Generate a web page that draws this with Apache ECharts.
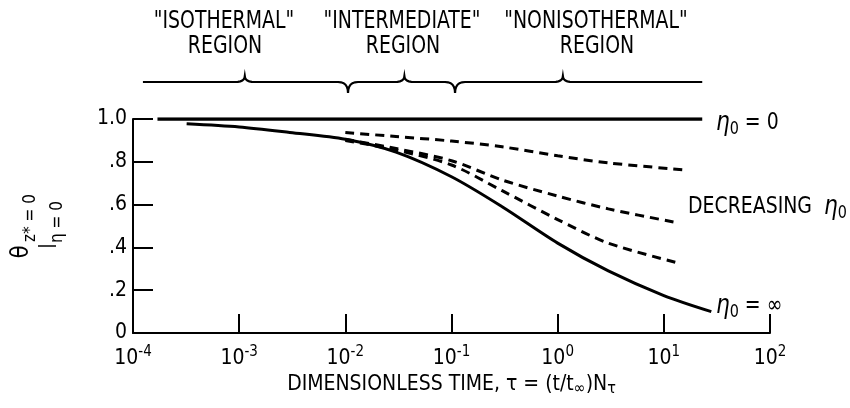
<!DOCTYPE html>
<html>
<head>
<meta charset="utf-8">
<script src="https://cdn.jsdelivr.net/npm/echarts@6/dist/echarts.min.js"></script>
<style>
html, body { margin: 0; padding: 0; background: #fff; }
#chart { width: 850px; height: 408px; }
</style>
</head>
<body>
<div id="chart"></div>
<script>
const FONT = "'Liberation Sans Narrow', 'DejaVu Sans Condensed', sans-serif";

// dimensionless time tau (x) and theta at the surface (y)
const etaZeroTau = [1.7e-4, 23];
const etaZeroTheta = [1.0, 1.0];

const etaInfTau = [3.2e-4, 1e-3, 3e-3, 1e-2, 3e-2, 0.1, 0.3, 1, 3, 10, 28];
const etaInfTheta = [0.978, 0.963, 0.937, 0.905, 0.845, 0.73, 0.59, 0.42, 0.29, 0.175, 0.10];

const dashTopTau = [0.01, 0.03, 0.1, 0.3, 1, 3, 15];
const dashTopTheta = [0.937, 0.918, 0.897, 0.87, 0.828, 0.795, 0.763];

const dashMidTau = [0.01, 0.03, 0.1, 0.3, 1, 3, 13.5];
const dashMidTheta = [0.905, 0.862, 0.805, 0.715, 0.64, 0.58, 0.515];

const dashLowTau = [0.01, 0.03, 0.1, 0.3, 1, 3, 13];
const dashLowTheta = [0.90, 0.855, 0.785, 0.665, 0.53, 0.42, 0.33];

const yTickLabels = ['0', '.2', '.4', '.6', '.8', '1.0'];

// brace above the plot: ends, region boundaries (dips) and region middles (peaks)
const braceEnds = [1.24e-4, 23];
const braceDips = [0.0106, 0.108];
const bracePeaks = [1.13e-3, 0.036, 1.12];
const regionNames = ['"ISOTHERMAL"', '"INTERMEDIATE"', '"NONISOTHERMAL"'];
const regionX = [224, 402, 596];

function pairs(xs, ys) {
    return xs.map((x, i) => [x, ys[i]]);
}

const chart = echarts.init(document.getElementById('chart'));

const option = {
    animation: false,
    backgroundColor: '#fff',
    textStyle: { fontFamily: FONT, color: '#000' },
    grid: { left: 133, right: 80, top: 119, bottom: 75 },
    xAxis: {
        type: 'log',
        logBase: 10,
        min: 1e-4,
        max: 100,
        name: '{a|DIMENSIONLESS TIME, τ = (t/t}{s|∞}{a|)N}{s|τ}',
        nameLocation: 'middle',
        nameGap: 38,
        nameTextStyle: {
            rich: {
                a: { fontFamily: FONT, fontSize: 21, lineHeight: 24, color: '#000', verticalAlign: 'middle' },
                s: { fontFamily: FONT, fontSize: 16, lineHeight: 14, color: '#000', verticalAlign: 'bottom' }
            }
        },
        axisLine: { lineStyle: { color: '#000', width: 2 } },
        axisTick: { inside: true, length: 19, lineStyle: { color: '#000', width: 2 } },
        minorTick: { show: false },
        splitLine: { show: false },
        axisLabel: {
            margin: 12,
            formatter: (v) => '{b|10}{s|' + Math.round(Math.log10(v)) + '}',
            rich: {
                b: { fontFamily: FONT, fontSize: 21, lineHeight: 27, color: '#000', verticalAlign: 'middle' },
                s: { fontFamily: FONT, fontSize: 15, lineHeight: 14, color: '#000', verticalAlign: 'top' }
            }
        }
    },
    yAxis: {
        type: 'value',
        min: 0,
        max: 1,
        interval: 0.2,
        axisLine: { show: true, lineStyle: { color: '#000', width: 2 } },
        axisTick: { show: true, inside: true, length: 20, lineStyle: { color: '#000', width: 2 } },
        splitLine: { show: false },
        axisLabel: {
            margin: 6,
            fontSize: 21,
            fontFamily: FONT,
            color: '#000',
            formatter: (v) => yTickLabels[Math.round(v * 5)]
        }
    },
    series: [
        {
            type: 'line', data: pairs(etaZeroTau, etaZeroTheta), showSymbol: false,
            lineStyle: { color: '#000', width: 3.5 }
        },
        {
            type: 'line', data: pairs(etaInfTau, etaInfTheta), showSymbol: false, smooth: 0.3,
            lineStyle: { color: '#000', width: 3 }
        },
        {
            type: 'line', data: pairs(dashTopTau, dashTopTheta), showSymbol: false, smooth: 0.3,
            lineStyle: { color: '#000', width: 3, type: [9, 6] }
        },
        {
            type: 'line', data: pairs(dashMidTau, dashMidTheta), showSymbol: false, smooth: 0.3,
            lineStyle: { color: '#000', width: 3, type: [9, 6] }
        },
        {
            type: 'line', data: pairs(dashLowTau, dashLowTheta), showSymbol: false, smooth: 0.3,
            lineStyle: { color: '#000', width: 3, type: [9, 6] }
        }
    ]
};

chart.setOption(option);

// quadratic curve sampled to points
function quad(p0, c, p1, n) {
    const pts = [];
    for (let i = 1; i <= n; i++) {
        const t = i / n;
        const a = (1 - t) * (1 - t), b = 2 * (1 - t) * t, d = t * t;
        pts.push([a * p0[0] + b * c[0] + d * p1[0], a * p0[1] + b * c[1] + d * p1[1]]);
    }
    return pts;
}

const toPx = (tau) => chart.convertToPixel({ gridIndex: 0 }, [tau, 1])[0];
const by = 82;
const features = bracePeaks.map(t => ({ x: toPx(t), h: -6 }))
    .concat(braceDips.map(t => ({ x: toPx(t), h: 11 })))
    .sort((a, b) => a.x - b.x);

let bracePts = [[toPx(braceEnds[0]), by]];
features.forEach(f => {
    const w = 10;
    bracePts.push([f.x - w, by]);
    bracePts = bracePts.concat(quad([f.x - w, by], [f.x, by], [f.x, by + f.h], 6));
    bracePts = bracePts.concat(quad([f.x, by + f.h], [f.x, by], [f.x + w, by], 6));
});
bracePts.push([toPx(braceEnds[1]), by]);

const txt = (size) => ({ fontFamily: FONT, fontSize: size, fill: '#000', align: 'center', verticalAlign: 'middle' });

const graphics = [
    {
        type: 'polyline', shape: { points: bracePts },
        style: { stroke: '#000', lineWidth: 2.2, fill: null }
    }
];

regionNames.forEach((name, i) => {
    graphics.push({
        type: 'text', x: regionX[i], y: 22, scaleY: 1.15,
        style: Object.assign({ text: name }, txt(21))
    });
    graphics.push({
        type: 'text', x: regionX[i] + 1, y: 47, scaleY: 1.15,
        style: Object.assign({ text: 'REGION' }, txt(21))
    });
});

const etaRich = {
    g: { fontFamily: FONT, fontSize: 24, fontStyle: 'italic', lineHeight: 28, verticalAlign: 'middle', fill: '#000' },
    s: { fontFamily: FONT, fontSize: 16, lineHeight: 15, verticalAlign: 'bottom', fill: '#000' },
    t: { fontFamily: FONT, fontSize: 21, lineHeight: 28, verticalAlign: 'middle', fill: '#000' }
};

graphics.push({
    type: 'text', x: 716, y: 123, scaleY: 1.1,
    style: { text: '{g|η}{s|0}{t| = 0}', rich: etaRich, align: 'left', verticalAlign: 'middle' }
});
graphics.push({
    type: 'text', x: 688, y: 207, scaleY: 1.1,
    style: { text: '{t|DECREASING  }{g|η}{s|0}', rich: etaRich, align: 'left', verticalAlign: 'middle' }
});
graphics.push({
    type: 'text', x: 716, y: 306, scaleY: 1.1,
    style: { text: '{g|η}{s|0}{t| = ∞}', rich: etaRich, align: 'left', verticalAlign: 'middle' }
});

// rotated y axis title: theta | z* = 0, eta = 0
graphics.push({
    type: 'text', x: 22, y: 252, rotation: Math.PI / 2,
    style: Object.assign({ text: 'θ' }, txt(24))
});
graphics.push({
    type: 'line', shape: { x1: 38, y1: 246, x2: 56, y2: 246 },
    style: { stroke: '#000', lineWidth: 1.5 }
});
graphics.push({
    type: 'text', x: 31, y: 218, rotation: Math.PI / 2,
    style: Object.assign({ text: 'z* = 0' }, txt(17))
});
graphics.push({
    type: 'text', x: 58, y: 222, rotation: Math.PI / 2,
    style: Object.assign({ text: 'η = 0' }, txt(17))
});

chart.setOption({ graphic: graphics });
</script>
</body>
</html>
